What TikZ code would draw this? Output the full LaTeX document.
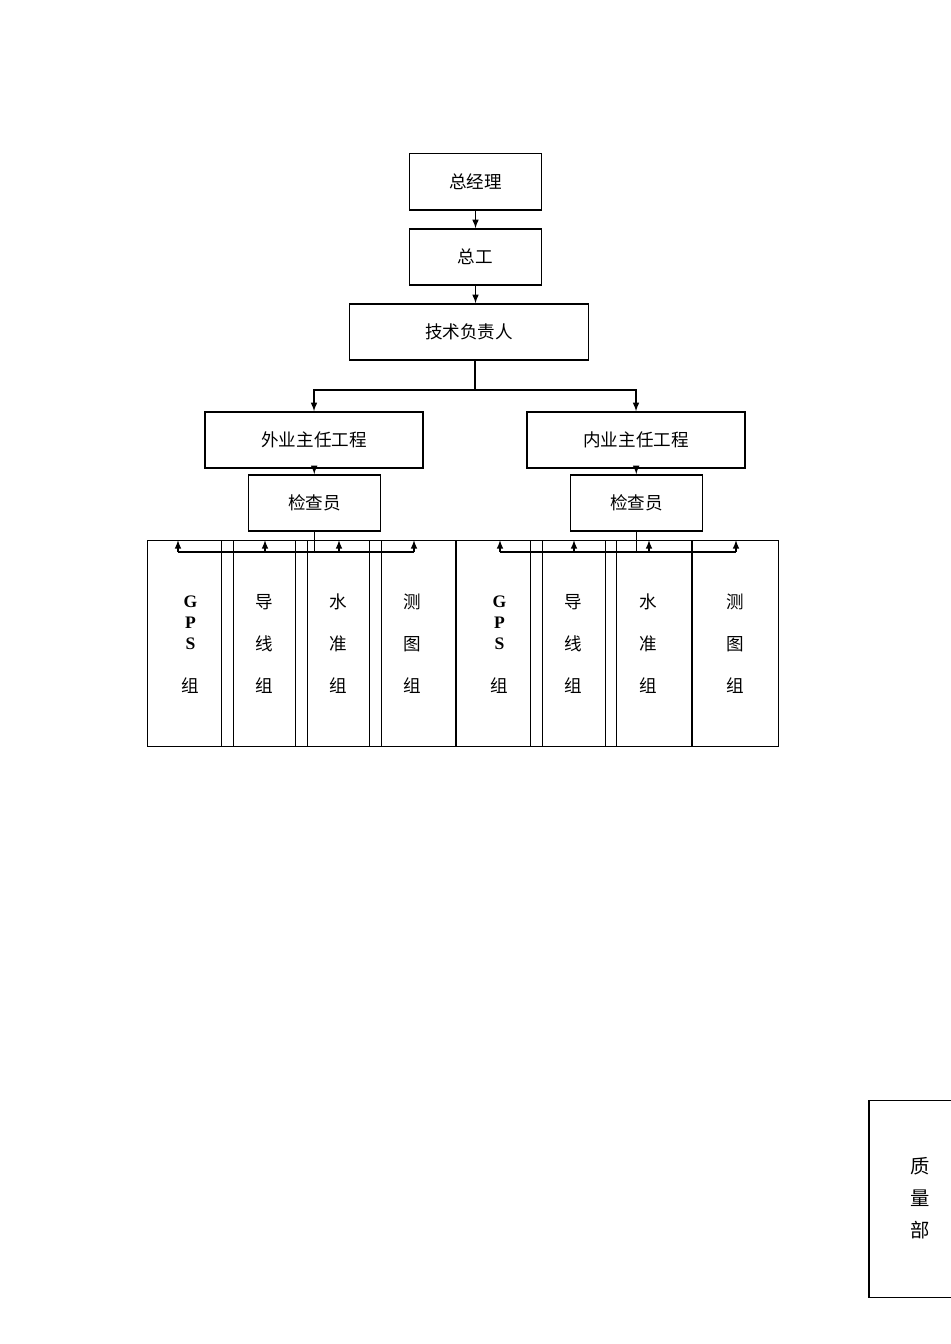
\documentclass[tikz,border=0pt]{standalone}
\usepackage{fontspec}
\setmainfont{Liberation Serif}
\newfontfamily\cjk{Noto Sans CJK SC}
\begin{document}
\begin{tikzpicture}[x=0.02cm,y=-0.02cm,
  bx/.style={draw,line width=0.7pt,inner sep=0pt,font=\cjk\fontsize{10}{12}\selectfont},
  ar/.style={-latex,line width=0.7pt},
  ln/.style={line width=0.7pt}]
\useasboundingbox (0,0) rectangle (950,1344);
\node[bx,minimum width=75,minimum height=32] (a) at (475.5,182) {总经理};
\node[bx,minimum width=75,minimum height=32] (b) at (475.5,257) {总工};
\node[bx,minimum width=136,minimum height=32] (c) at (469,332) {技术负责人};
\node[bx,minimum width=124,minimum height=32] (L) at (314,440) {外业主任工程};
\node[bx,minimum width=124,minimum height=32] (R) at (636,440) {内业主任工程};
\node[bx,minimum width=75,minimum height=32] (Lc) at (314.5,503) {检查员};
\node[bx,minimum width=75,minimum height=32] (Rc) at (636.5,503) {检查员};
\draw[ar] (a) -- (b);
\draw[ar] (b) -- (a.center |- c.north);
\coordinate (j) at (475,390);
\draw[ln] (c.south -| j) -- (j);
\draw[ar] (j) -| (L.north);
\draw[ar] (j) -| (R.north);
\draw[ar] (L) -- (Lc);
\draw[ar] (R) -- (Rc);
% groups
\foreach \n/\cx/\ax/\t/\u in {g1/190.5/178/G/P, g2/264.5/265/导/线, g3/338.5/339/水/准, g4/412.5/414/测/图,
  g5/499.5/500/G/P, g6/573.5/574/导/线, g7/648.5/649/水/准, g8/735.5/736/测/图}{
  \node[bx,minimum width=49,minimum height=117] (\n) at (\cx,643.5) {};
  \coordinate (\n a) at (\ax,552);
  \draw[ar] (\n a) -- (\n a |- \n.north);
}
\foreach \n/\cx in {g1/190.5,g5/499.5}{
  \node[font=\bfseries\fontsize{10}{12}\selectfont] at (\cx,602) {G};
  \node[font=\bfseries\fontsize{10}{12}\selectfont] at (\cx,623) {P};
  \node[font=\bfseries\fontsize{10}{12}\selectfont] at (\cx,644) {S};
  \node[font=\cjk\fontsize{10}{12}\selectfont] at (\cx,686) {组};
}
\foreach \cx/\t/\u in {264.5/导/线,338.5/水/准,412.5/测/图,573.5/导/线,648.5/水/准,735.5/测/图}{
  \node[font=\cjk\fontsize{10}{12}\selectfont] at (\cx,602) {\t};
  \node[font=\cjk\fontsize{10}{12}\selectfont] at (\cx,644) {\u};
  \node[font=\cjk\fontsize{10}{12}\selectfont] at (\cx,686) {组};
}
\draw[ln] (Lc.south) -- (Lc.south |- g1a);
\draw[ln] (g1a) -- (g4a);
\draw[ln] (Rc.south) -- (Rc.south |- g5a);
\draw[ln] (g5a) -- (g8a);
% quality
\node[bx,minimum width=58,minimum height=112] (q) at (920,1199) {};
\node[font=\cjk\fontsize{11}{12}\selectfont] at (920,1166) {质};
\node[font=\cjk\fontsize{11}{12}\selectfont] at (920,1198) {量};
\node[font=\cjk\fontsize{11}{12}\selectfont] at (920,1230) {部};
\end{tikzpicture}
\end{document}
